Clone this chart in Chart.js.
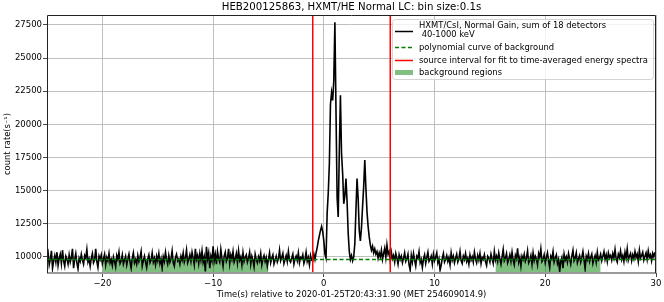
<!DOCTYPE html>
<html>
<head>
<meta charset="utf-8">
<script src="https://cdn.jsdelivr.net/npm/chart.js@4.4.1/dist/chart.umd.min.js"></script>
<style>
  html, body { margin: 0; padding: 0; background: #fff; }
  #wrap { width: 664px; height: 302px; position: relative; }
</style>
</head>
<body>
<div id="wrap"><canvas id="lcChart"></canvas></div>
<script>
// light curve, 0.1 s bins starting at -25 s
const tStart = -25.0;
const binSize = 0.1;
const rate = [
  9950,10300,9400,9800,10450,9150,9700,10100,9600,10350,
  9350,9900,10200,9500,10500,9700,9300,10050,9850,9450,
  10150,9600,9950,10600,9150,9800,10250,9550,9100,9900,
  9650,10200,9750,9450,10100,9900,10550,9600,9850,9300,
  9900,10250,9550,9750,10600,9650,9200,10050,9800,10150,
  9500,9850,10200,9400,9950,9700,10250,9550,9800,9350,
  10000,9650,9250,10100,9800,10350,9500,9700,10150,9450,
  9750,10050,9400,9850,10200,9600,9150,9900,10300,9550,
  9800,9450,10100,9650,9950,10400,9300,9700,10050,9600,
  9200,9850,10150,9550,9750,10300,9600,9900,9400,10050,
  9700,10250,9500,9850,9150,10000,9650,10350,9800,9450,
  10100,9600,9850,10450,9550,9300,9950,10200,9700,9850,
  9450,10050,9750,10300,9600,9900,10500,9550,9800,10150,
  9650,10350,9900,9400,10600,9800,10100,9500,10250,9750,
  10450,9600,10000,8900,10750,9850,10300,9150,10050,9700,
  10800,9700,10200,9450,10400,9850,9600,10550,9900,9300,
  10050,10350,9650,9900,10600,9500,10150,9800,10400,9600,
  9850,10250,9550,10450,9750,10000,9400,10300,9650,9950,
  10150,9600,9900,10350,9450,10050,9750,9250,10200,9800,
  9550,10000,9700,10250,9400,9850,10100,9650,9950,9300,
  9800,10300,9550,9900,10150,9450,9750,10050,9600,9850,
  10500,9700,9950,10250,9500,9800,10100,9650,10400,9750,
  9600,9900,10200,9450,9850,10050,9700,10300,9550,9950,
  9850,10150,9500,9800,10350,9650,9950,9400,10100,9750,
  9700,10200,9800,10300,10700,11200,11600,12000,12300,11900,
  11200,10200,9900,13300,14800,17000,21500,22400,21800,23300,
  27700,21000,14500,13000,18000,22200,17800,16300,14000,14600,
  15900,14200,11800,10400,9800,10100,9700,10000,11000,13500,
  15900,14400,12000,11200,12200,13800,15300,17300,15200,13400,
  12300,11500,10900,10500,10800,10300,10600,10200,10400,9900,
  10300,10000,10500,9800,10250,10650,9950,10900,10200,10400,
  9700,10350,9850,10100,9600,10250,9900,9450,10150,9800,
  10050,9550,9900,10300,9650,9850,10200,9400,9000,10100,
  9600,10250,9750,9300,10050,9900,10400,9550,9800,9200,
  9850,10150,9500,9950,10350,9650,9800,10050,9450,10200,
  9700,9950,10300,9550,9850,9000,9350,9900,10250,9600,
  9800,10100,9650,9950,9400,10300,9750,10050,9550,9900,
  10200,9600,9850,10400,9700,9500,10050,9800,10250,9650,
  9900,9450,10150,9750,10000,9600,10350,9850,9550,10100,
  9750,10250,9500,9950,9800,10150,9650,9350,10050,9900,
  9600,10200,9850,9500,10400,9750,10050,9650,10300,9850,
  9450,10000,10550,9700,9900,10250,9550,9800,10150,9650,
  10350,9750,9400,10100,9850,10650,9600,9950,9300,10050,
  9800,10200,9650,9900,10450,9550,9750,10100,9450,10300,
  9700,10050,9850,9400,10250,9950,10600,9650,9800,10150,
  9550,9950,10300,9700,9200,10050,9850,10400,9600,9900,
  10150,9500,9800,8900,9650,9950,9150,10200,9750,10000,
  9600,10250,9850,9450,10050,10500,9700,9900,10300,9550,
  9850,10100,9600,9950,10400,9750,9100,10050,9800,10250,
  9650,9950,10200,9500,9850,10100,9600,10350,9750,9900,
  10200,9700,10050,10400,9800,10150,9650,10300,9950,10100,
  9750,10250,9900,10550,9850,9600,10200,9950,10450,9800,
  10100,9650,10350,9900,10600,9750,10050,10250,9700,10150,
  9850,10400,9950,10200,9650,10500,9900,10100,10350,9750,
  10050,10300,9800,10450,9950,10150,9700,10250,10000,10350
];
const bgTimes = [-25, 30];
const bgRate = [9800, 9800];
const srcInterval = [-1.0, 6.0];
const bgRegions = [[-20, -5], [15.5, 25]];
const xTicks = [-20, -10, 0, 10, 20, 30];
const yTicks = [10000, 12500, 15000, 17500, 20000, 22500, 25000, 27500];
const xRange = [-25, 30];
const yRange = [8780, 28250];

const titleText = 'HEB200125863, HXMT/HE Normal LC: bin size:0.1s';
const legendLabels = [
  ['HXMT/CsI, Normal Gain, sum of 18 detectors', ' 40-1000 keV'],
  ['polynomial curve of background'],
  ['source interval for fit to time-averaged energy spectra'],
  ['background regions']
];

const FONT = '"DejaVu Sans", sans-serif';
const GREEN = '#008000';
const FILL = 'rgba(0,128,0,0.5)';

const lcPoints = rate.map((v, i) => ({ x: tStart + binSize * i, y: v }));
const bgPoints = bgTimes.map((t, i) => ({ x: t, y: bgRate[i] }));

function regionPoints(r) {
  // fill sits under the background curve
  return r.map(t => ({ x: t, y: bgRate[0] }));
}
function vline(t) {
  return [{ x: t, y: yRange[0] }, { x: t, y: yRange[1] }];
}

const datasets = [];
srcInterval.forEach(t => datasets.push({
  data: vline(t), borderColor: '#ff0000', borderWidth: 1.5, pointRadius: 0, fill: false
}));
datasets.push({
  data: bgPoints, borderColor: GREEN, borderWidth: 1.3, borderDash: [4, 2.5], pointRadius: 0, fill: false
});
datasets.push({
  data: lcPoints, borderColor: '#000', borderWidth: 1.6, pointRadius: 0, fill: false
});
bgRegions.forEach(r => datasets.push({
  data: regionPoints(r), borderWidth: 0, borderColor: 'rgba(0,0,0,0)', backgroundColor: FILL,
  pointRadius: 0, fill: 'start'
}));

const frame = {
  id: 'frame',
  afterDatasetsDraw(chart) {
    const { ctx, chartArea: a } = chart;
    ctx.save();
    ctx.strokeStyle = '#9a9a9a';
    ctx.lineWidth = 2;
    ctx.beginPath(); ctx.moveTo(a.left, a.bottom); ctx.lineTo(a.right, a.bottom); ctx.stroke();
    ctx.strokeStyle = '#222';
    ctx.lineWidth = 1;
    ctx.beginPath();
    ctx.moveTo(a.left + 0.5, a.bottom);
    ctx.lineTo(a.left + 0.5, a.top + 0.5);
    ctx.lineTo(a.right - 0.5, a.top + 0.5);
    ctx.lineTo(a.right - 0.5, a.bottom);
    ctx.stroke();
    ctx.restore();
  },
  afterDraw(chart) {
    const { ctx, chartArea: a } = chart;
    ctx.save();
    ctx.fillStyle = '#000';
    ctx.font = '10.2px ' + FONT;
    ctx.textAlign = 'center';
    ctx.textBaseline = 'middle';
    ctx.fillText(titleText, (a.left + a.right) / 2, 7);

    // legend
    const x0 = 392, y0 = 19, w = 261, h = 60;
    ctx.beginPath();
    ctx.roundRect(x0 + 0.5, y0 + 0.5, w, h, 3);
    ctx.fillStyle = 'rgba(255,255,255,0.8)';
    ctx.fill();
    ctx.strokeStyle = '#d4d4d4';
    ctx.lineWidth = 1;
    ctx.stroke();

    const sx0 = 395, sx1 = 413, tx = 419;
    ctx.font = '8.4px ' + FONT;
    ctx.textAlign = 'left';
    ctx.fillStyle = '#000';
    ctx.fillText(legendLabels[0][0], tx, 25.5);
    ctx.fillText(legendLabels[0][1], tx, 35);
    ctx.fillText(legendLabels[1][0], tx, 47.5);
    ctx.fillText(legendLabels[2][0], tx, 60.5);
    ctx.fillText(legendLabels[3][0], tx, 72.5);

    ctx.lineWidth = 1.5;
    ctx.strokeStyle = '#000';
    ctx.beginPath(); ctx.moveTo(sx0, 31.5); ctx.lineTo(sx1, 31.5); ctx.stroke();
    ctx.strokeStyle = GREEN;
    ctx.setLineDash([4, 2.5]);
    ctx.beginPath(); ctx.moveTo(sx0, 47.5); ctx.lineTo(sx1, 47.5); ctx.stroke();
    ctx.setLineDash([]);
    ctx.strokeStyle = '#ff0000';
    ctx.lineWidth = 1.5;
    ctx.beginPath(); ctx.moveTo(sx0, 60.5); ctx.lineTo(sx1, 60.5); ctx.stroke();
    ctx.fillStyle = FILL;
    ctx.fillRect(sx0, 70, sx1 - sx0, 5);
    ctx.restore();
  }
};

new Chart(document.getElementById('lcChart').getContext('2d'), {
  type: 'line',
  data: { datasets },
  options: {
    responsive: true,
    maintainAspectRatio: false,
    animation: false,
    devicePixelRatio: 1,
    layout: { padding: { top: 15, right: 8, left: 0, bottom: 2 } },
    plugins: {
      legend: { display: false },
      title: { display: false },
      tooltip: { enabled: false }
    },
    elements: { line: { tension: 0 } },
    scales: {
      x: {
        type: 'linear',
        min: xRange[0],
        max: xRange[1],
        afterBuildTicks: s => { s.ticks = xTicks.map(v => ({ value: v })); },
        afterFit: s => { s.height = 27; },
        ticks: {
          font: { family: FONT, size: 8.5 },
          color: '#000',
          padding: 2,
          maxRotation: 0,
          autoSkip: false,
          callback: v => (v < 0 ? '\u2212' + Math.abs(v) : String(v))
        },
        grid: { color: '#b8b8b8', lineWidth: 0.9, tickLength: 4, tickColor: '#333' },
        border: { display: false },
        title: {
          display: true,
          text: 'Time(s) relative to 2020-01-25T20:43:31.90 (MET 254609014.9)',
          font: { family: FONT, size: 8.4 },
          color: '#000',
          padding: { top: 0, bottom: 0 }
        }
      },
      y: {
        min: yRange[0],
        max: yRange[1],
        afterBuildTicks: s => { s.ticks = yTicks.map(v => ({ value: v })); },
        afterFit: s => { s.width = 47; },
        ticks: {
          font: { family: FONT, size: 8.5 },
          color: '#000',
          padding: 1,
          autoSkip: false,
          callback: v => String(v)
        },
        grid: { color: '#b8b8b8', lineWidth: 0.9, tickLength: 4, tickColor: '#333' },
        border: { display: false },
        title: {
          display: true,
          text: 'count rate(s\u207B\u00B9)',
          font: { family: FONT, size: 8.4 },
          color: '#000',
          padding: { top: 3, bottom: 0 }
        }
      }
    }
  },
  plugins: [frame]
});
</script>
</body>
</html>
